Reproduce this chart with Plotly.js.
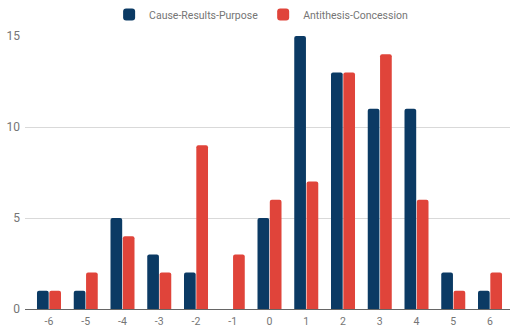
<!DOCTYPE html>
<html>
<head>
<meta charset="utf-8">
<script src="https://cdn.plot.ly/plotly-3.0.1.min.js"></script>
<style>html,body{margin:0;padding:0;background:#fff}#chart{width:512px;height:330px}</style>
</head>
<body>
<div id="chart"></div>
<script>
var categories = ["-6","-5","-4","-3","-2","-1","0","1","2","3","4","5","6"];
var causeResultsPurpose = [1,1,5,3,2,0,5,15,13,11,11,2,1];
var antithesisConcession = [1,2,4,2,9,3,6,7,13,14,6,1,2];
var seriesNames = ["Cause-Results-Purpose","Antithesis-Concession"];

var data = [
  {type:'bar', x:categories, y:causeResultsPurpose, name:seriesNames[0],
   marker:{color:'#0b3a64', cornerradius:2}},
  {type:'bar', x:categories, y:antithesisConcession, name:seriesNames[1],
   marker:{color:'#e0443a', cornerradius:2}}
];
var layout = {
  width:512, height:330,
  margin:{l:25, r:2, t:36, b:21},
  paper_bgcolor:'#fff', plot_bgcolor:'#fff',
  font:{family:'Roboto, sans-serif', size:11, color:'#757575'},
  barmode:'group', bargap:0.33, bargroupgap:0.05,
  showlegend:true,
  legend:{orientation:'h', x:0.51, xanchor:'center', xref:'container', y:1, yanchor:'top', yref:'container',
          font:{size:10.5, color:'#757575'}, itemwidth:20},
  xaxis:{type:'category', range:[-0.653, 12.544], showgrid:false, showline:false, ticks:'',
         tickfont:{size:10.5, color:'#757575'}, ticklabelstandoff:4},
  yaxis:{range:[0,15], tickvals:[0,5,10,15], showgrid:true, gridcolor:'#d9d9d9', gridwidth:1,
         zeroline:true, zerolinecolor:'#666', zerolinewidth:1, ticks:'', tickfont:{size:12, color:'#757575'},
         ticklabelstandoff:4}
};
Plotly.newPlot('chart', data, layout, {displayModeBar:false, staticPlot:true});
</script>
</body>
</html>
